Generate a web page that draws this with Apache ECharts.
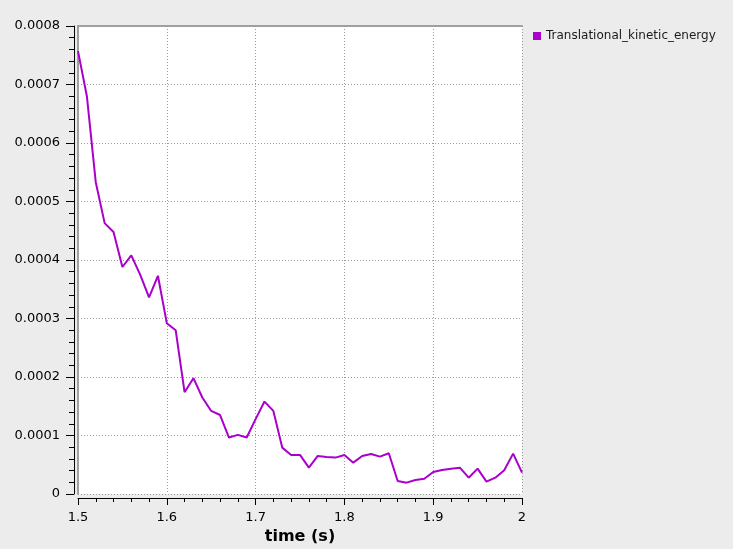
<!DOCTYPE html>
<html>
<head>
<meta charset="utf-8">
<script src="https://cdn.jsdelivr.net/npm/echarts@6/dist/echarts.min.js"></script>
<style>
  html, body { margin: 0; padding: 0; background: #ececec; }
  #chart { width: 733px; height: 549px; }
</style>
</head>
<body>
<div id="chart"></div>
<script>
// time samples (s)
const times = [
    1.50, 1.51, 1.52, 1.53, 1.54, 1.55, 1.56, 1.57, 1.58, 1.59,
    1.60, 1.61, 1.62, 1.63, 1.64, 1.65, 1.66, 1.67, 1.68, 1.69,
    1.70, 1.71, 1.72, 1.73, 1.74, 1.75, 1.76, 1.77, 1.78, 1.79,
    1.80, 1.81, 1.82, 1.83, 1.84, 1.85, 1.86, 1.87, 1.88, 1.89,
    1.90, 1.91, 1.92, 1.93, 1.94, 1.95, 1.96, 1.97, 1.98, 1.99,
    2.00
];

// Translational_kinetic_energy values
const energy = [
    0.000757, 0.000680, 0.000533, 0.000463, 0.000448, 0.000388, 0.000408, 0.000375, 0.000336, 0.000373,
    0.000292, 0.000280, 0.000174, 0.000198, 0.000165, 0.000142, 0.000135, 0.0000965, 0.000101, 0.0000965,
    0.000128, 0.000158, 0.000142, 0.0000793, 0.0000668, 0.0000668, 0.000045, 0.000065, 0.0000634, 0.0000622,
    0.0000668, 0.0000536, 0.000065, 0.0000685, 0.0000639, 0.0000697, 0.0000223, 0.0000194, 0.000024, 0.0000262,
    0.0000377, 0.0000411, 0.0000433, 0.000045, 0.0000279, 0.0000433, 0.0000211, 0.0000279, 0.0000406, 0.000069,
    0.0000365
];

const seriesName = 'Translational_kinetic_energy';
const xTitle = 'time (s)';

const chart = echarts.init(document.getElementById('chart'));

const labelFont = {
    color: '#000',
    fontFamily: 'DejaVu Sans',
    fontSize: 13
};
const gridDots = {
    show: true,
    lineStyle: { color: '#9a9a9a', width: 1, type: [1, 2] }
};

const option = {
    animation: false,
    backgroundColor: '#ececec',
    grid: {
        left: 78,
        right: 211,
        top: 26,
        bottom: 55,
        outerBoundsMode: 'none',
        containLabel: false,
        show: true,
        backgroundColor: '#fff',
        borderWidth: 0
    },
    legend: {
        data: [seriesName],
        left: 533,
        top: 30,
        padding: 0,
        orient: 'vertical',
        icon: 'rect',
        itemWidth: 8,
        itemHeight: 8,
        textStyle: {
            color: '#1a1a1a',
            fontFamily: 'DejaVu Sans',
            fontSize: 12
        }
    },
    xAxis: [{
        type: 'value',
        min: 1.5,
        max: 2,
        interval: 0.1,
        offset: 4,
        name: xTitle,
        nameLocation: 'middle',
        nameGap: 27,
        nameTextStyle: {
            color: '#000',
            fontFamily: 'DejaVu Sans',
            fontSize: 16,
            fontWeight: 'bold'
        },
        axisLine: { show: true, onZero: false, lineStyle: { color: '#000', width: 1 } },
        axisTick: { show: true, length: 7, lineStyle: { color: '#000' } },
        minorTick: { show: true, splitNumber: 5, length: 4, lineStyle: { color: '#000' } },
        axisLabel: Object.assign({ margin: 13 }, labelFont),
        splitLine: gridDots
    }, {
        // grey top frame of the plot area
        type: 'value',
        position: 'top',
        min: 1.5,
        max: 2,
        axisLine: { show: true, onZero: false, lineStyle: { color: '#a0a0a0', width: 2 } },
        axisTick: { show: false },
        axisLabel: { show: false },
        splitLine: { show: false }
    }],
    yAxis: [{
        type: 'value',
        min: 0,
        max: 0.0008,
        interval: 0.0001,
        position: 'left',
        offset: 4,
        axisLine: { show: true, onZero: false, lineStyle: { color: '#000', width: 1 } },
        axisTick: { show: true, length: 8, lineStyle: { color: '#000' } },
        minorTick: { show: true, splitNumber: 5, length: 5, lineStyle: { color: '#000' } },
        axisLabel: Object.assign({
            margin: 14,
            formatter: v => (v === 0 ? '0' : v.toFixed(4))
        }, labelFont),
        splitLine: gridDots
    }, {
        // grey left frame of the plot area
        type: 'value',
        position: 'left',
        offset: 0,
        min: 0,
        max: 0.0008,
        axisLine: { show: true, onZero: false, lineStyle: { color: '#a0a0a0', width: 2 } },
        axisTick: { show: false },
        axisLabel: { show: false },
        splitLine: { show: false }
    }],
    series: [{
        name: seriesName,
        type: 'line',
        xAxisIndex: 0,
        yAxisIndex: 0,
        data: times.map((t, i) => [t, energy[i]]),
        showSymbol: false,
        symbol: 'none',
        itemStyle: { color: '#aa00cc' },
        lineStyle: { color: '#aa00cc', width: 2 }
    }]
};

chart.setOption(option);
</script>
</body>
</html>
